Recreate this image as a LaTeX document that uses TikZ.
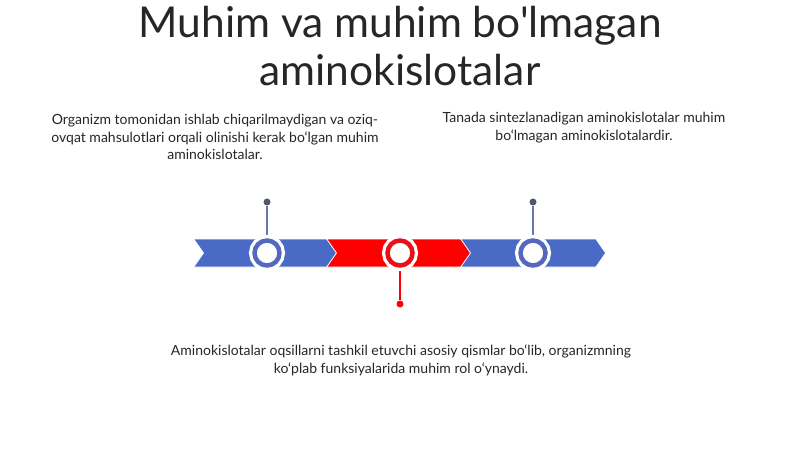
\documentclass[tikz,border=0pt]{standalone}
\usepackage{fontspec}
\setmainfont{Lato}[Ligatures=TeXOff]
\usetikzlibrary{shapes.symbols}
\definecolor{arrowblue}{HTML}{4A6BC5}
\definecolor{ringblue}{HTML}{5468C0}
\definecolor{stemblue}{HTML}{6A75A8}
\definecolor{dotgrey}{HTML}{4F5870}
\definecolor{arrowred}{HTML}{FF0000}
\definecolor{ringred}{HTML}{E8101A}
\definecolor{textgrey}{HTML}{262626}
\tikzset{
  chevron/.style={signal, signal from=west, signal to=east, signal pointer angle=110,
    minimum width=145, minimum height=28, inner sep=0, draw=white, line width=0.8},
  ring/.style={circle, fill=white, line width=4.5, minimum size=25, inner sep=0,
    preaction={draw=white, line width=11}},
  pin/.style={circle, inner sep=0, minimum size=7},
  note/.style={align=center, text=textgrey, font=\fontsize{14}{17.8}\selectfont}
}
\begin{document}
\begin{tikzpicture}[x=1pt, y=-1pt]
  \useasboundingbox (0,0) rectangle (800,449);

  % title
  \node[align=center, text=textgrey, font=\fontsize{42.5}{48}\selectfont] (title) at (400,46)
    {Muhim va muhim bo'lmagan\\aminokislotalar};

  % timeline arrows
  \begin{scope}[every node/.style={chevron}]
    \node[fill=arrowblue, anchor=west] (a1) at (203,253) {};
    \node[fill=arrowred, anchor=west]  (a2) at (336,253) {};
    \node[fill=arrowblue, anchor=west] (a3) at (470,253) {};
  \end{scope}

  % end points of the stems
  \node[pin, fill=dotgrey] (d1) at (267,202) {};
  \node[pin, fill=arrowred] (d2) at (400,304) {};
  \node[pin, fill=dotgrey] (d3) at (533,202) {};

  \draw[stemblue, line width=1.5] (d1) -- (267,253);
  \draw[arrowred, line width=1.5] (d2) -- (400,253);
  \draw[stemblue, line width=1.5] (d3) -- (533,253);

  % rings on the timeline
  \node[ring, draw=ringblue] (c1) at (267,253) {};
  \node[ring, draw=ringred]  (c2) at (400,253) {};
  \node[ring, draw=ringblue] (c3) at (533,253) {};

  % notes
  \node[note] (n1) at (215,137) {Organizm tomonidan ishlab chiqarilmaydigan va oziq-\\ovqat mahsulotlari orqali olinishi kerak bo‘lgan muhim\\aminokislotalar.};
  \node[note] (n2) at (584,128) {Tanada sintezlanadigan aminokislotalar muhim\\bo‘lmagan aminokislotalardir.};
  \node[note] (n3) at (401,360) {Aminokislotalar oqsillarni tashkil etuvchi asosiy qismlar bo‘lib, organizmning\\ko‘plab funksiyalarida muhim rol o‘ynaydi.};

\end{tikzpicture}
\end{document}
